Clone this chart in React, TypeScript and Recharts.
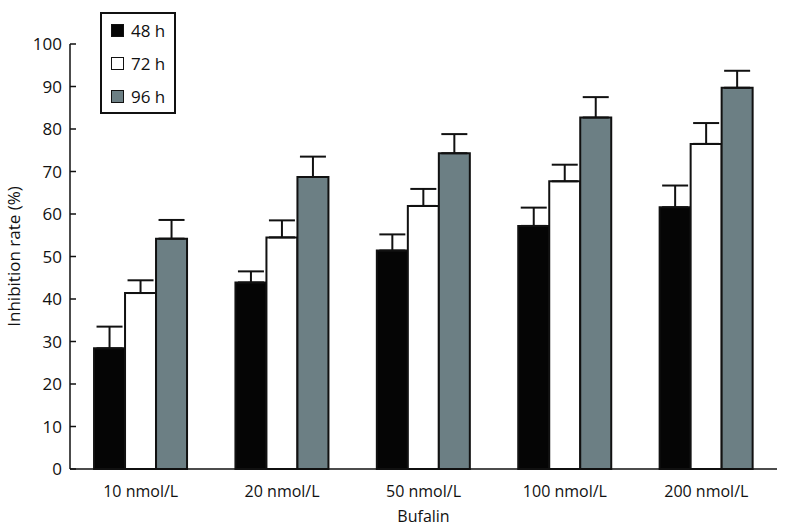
import { Bar, BarChart, ErrorBar, XAxis, YAxis } from 'recharts';

const concentrations = ['10 nmol/L', '20 nmol/L', '50 nmol/L', '100 nmol/L', '200 nmol/L'];
const rate48 = [28.4, 43.9, 51.4, 57.2, 61.6];
const rate72 = [41.4, 54.5, 61.9, 67.7, 76.5];
const rate96 = [54.2, 68.7, 74.3, 82.7, 89.7];
const err48 = [5.1, 2.6, 3.8, 4.3, 5.1];
const err72 = [3.0, 4.0, 4.0, 3.9, 4.9];
const err96 = [4.4, 4.8, 4.5, 4.8, 4.0];
const yTicks = [0, 10, 20, 30, 40, 50, 60, 70, 80, 90, 100];
const edgeTicks = [1, 2, 3, 4, 5];

const series = [
  { key: 'h48', err: 'e48', name: '48 h', fill: '#050505' },
  { key: 'h72', err: 'e72', name: '72 h', fill: '#ffffff' },
  { key: 'h96', err: 'e96', name: '96 h', fill: '#6c7f84' },
];

const data = concentrations.map((c, i) => ({
  name: c,
  idx: i + 0.5,
  h48: rate48[i],
  h72: rate72[i],
  h96: rate96[i],
  e48: [0, err48[i]],
  e72: [0, err72[i]],
  e96: [0, err96[i]],
}));

const font = '"Open Sans", sans-serif';

const YTick = ({ x, y, payload }: any) => (
  <g>
    <line x1={x + 8} x2={x + 14} y1={y} y2={y} stroke="#111" strokeWidth={1.5} />
    <text x={x} y={y} dy={6} textAnchor="end" fontSize={17} fontFamily={font} fill="#111">
      {payload.value}
    </text>
  </g>
);

const EdgeTick = ({ x, y }: any) => (
  <line x1={x} x2={x} y1={y} y2={y - 6} stroke="#111" strokeWidth={1.5} />
);

const LegendBox = () => (
  <div
    style={{
      position: 'absolute',
      left: 100,
      top: 12,
      width: 72,
      height: 98,
      border: '2px solid #111',
      background: '#fff',
      fontFamily: font,
      fontSize: 17,
      color: '#111',
    }}
  >
    {series.map((s) => (
      <div key={s.key} style={{ display: 'flex', alignItems: 'center', height: 33, paddingLeft: 9 }}>
        <span
          style={{
            display: 'inline-block',
            width: 11,
            height: 11,
            background: s.fill,
            border: '1.5px solid #111',
            marginRight: 7,
          }}
        />
        {s.name}
      </div>
    ))}
  </div>
);

export default function App() {
  return (
    <div style={{ position: 'absolute', left: 0, top: 0, width: 790, height: 526, background: '#fff' }}>
      <BarChart
        width={790}
        height={526}
        data={data}
        margin={{ top: 44, right: 13, left: 0, bottom: 0 }}
        barCategoryGap="17%"
        barGap={0}
      >
        <XAxis
          xAxisId="edge"
          dataKey="idx"
          type="number"
          domain={[0, 5]}
          ticks={edgeTicks}
          axisLine={false}
          tickLine={false}
          tickSize={0}
          tickMargin={0}
          tick={<EdgeTick />}
          height={0}
        />
        <XAxis
          dataKey="name"
          axisLine={{ stroke: '#111', strokeWidth: 1.5 }}
          tickLine={false}
          tickMargin={11}
          tick={{ fontSize: 16, fontFamily: font, fill: '#111' }}
          height={57}
          label={{ value: 'Bufalin', position: 'insideBottom', offset: 4, fontSize: 16, fontFamily: font, fill: '#111' }}
        />
        <YAxis
          domain={[0, 100]}
          ticks={yTicks}
          width={70}
          axisLine={{ stroke: '#111', strokeWidth: 1.5 }}
          tickLine={false}
          tickSize={0}
          tickMargin={8}
          tick={<YTick />}
          label={{
            value: 'Inhibition  rate (%)',
            angle: -90,
            position: 'insideLeft',
            offset: 14,
            style: { textAnchor: 'middle', fontSize: 17, fontFamily: font, fill: '#111' },
          }}
        />
        {series.map((s) => (
          <Bar
            key={s.key}
            dataKey={s.key}
            name={s.name}
            fill={s.fill}
            stroke="#111"
            strokeWidth={2}
            isAnimationActive={false}
          >
            <ErrorBar dataKey={s.err} width={13} stroke="#111" strokeWidth={2} direction="y" />
          </Bar>
        ))}
      </BarChart>
      <LegendBox />
    </div>
  );
}
